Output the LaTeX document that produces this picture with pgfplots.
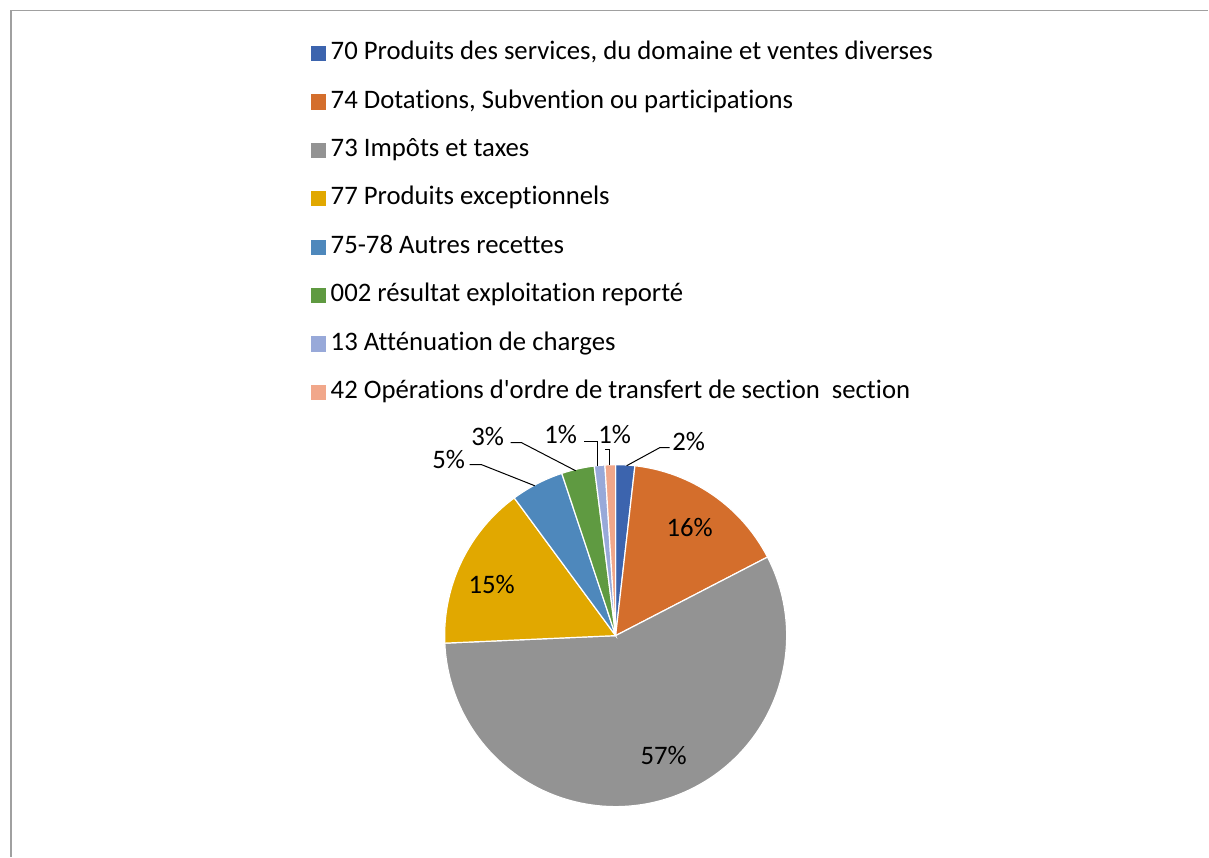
\documentclass[border=0pt]{standalone}
\usepackage{pgfplots}
\pgfplotsset{compat=1.18}
\usepackage{fontspec}
\setmainfont{Carlito}[Ligatures={TeXOff,NoCommon}]
\definecolor{c70}{HTML}{3C64AE}
\definecolor{c74}{HTML}{D46E2C}
\definecolor{c73}{HTML}{939393}
\definecolor{c77}{HTML}{E1A800}
\definecolor{c75}{HTML}{4E88BC}
\definecolor{c02}{HTML}{5F9A41}
\definecolor{c13}{HTML}{98A9D9}
\definecolor{c42}{HTML}{F1A78A}
\definecolor{frame}{HTML}{A0A0A0}
\tikzset{lbl/.style={font=\fontsize{7.6}{9}\selectfont, inner sep=0pt, anchor=center}}
% slice: #1 cumulative percent before, #2 percent, #3 colour
\newcommand{\slice}[3]{%
  \addplot[draw=white, line width=0.012cm, fill=#3,
    legend image code/.code={\fill[#3] (0cm,-0.07cm) rectangle (0.14cm,0.07cm);}]
    coordinates {(616,221)} -- ++({90-3.6*#1}:1.71cm)
    arc[start angle={90-3.6*#1}, delta angle={-3.6*#2}, radius=1.71cm] -- cycle;
}
\begin{document}
\begin{tikzpicture}
\begin{axis}[
  x=0.01cm, y=0.01cm,
  xmin=0, xmax=1209, ymin=0, ymax=857,
  hide axis, clip=false,
  at={(0,0)}, anchor=origin,
  legend style={at={(axis cs:310,816)}, anchor=north west, draw=none, fill=none,
    inner sep=0pt, row sep=0.244cm,
    font=\fontsize{7.6}{9}\selectfont,
    nodes={inner sep=0pt, anchor=west, text height=0.18cm, text depth=0.06cm}},
  legend cell align=left,
]
\path (axis cs:0,0) rectangle (axis cs:1209,857);
\draw[frame, line width=0.014cm] (axis cs:11,0) -- (axis cs:11,846.3) -- (axis cs:1209,846.3);
\slice{0}{1.8}{c70}
\addlegendentry{\hspace{0.05cm}70 Produits des services, du domaine et ventes diverses}
\slice{1.8}{15.6}{c74}
\addlegendentry{\hspace{0.05cm}74 Dotations, Subvention ou participations}
\slice{17.4}{56.9}{c73}
\addlegendentry{\hspace{0.05cm}73 Impôts et taxes}
\slice{74.3}{15.6}{c77}
\addlegendentry{\hspace{0.05cm}77 Produits exceptionnels}
\slice{89.9}{5.0}{c75}
\addlegendentry{\hspace{0.05cm}75-78 Autres recettes}
\slice{94.9}{3.1}{c02}
\addlegendentry{\hspace{0.05cm}002 résultat exploitation reporté}
\slice{98.0}{1.0}{c13}
\addlegendentry{\hspace{0.05cm}13 Atténuation de charges}
\slice{99.0}{1.0}{c42}
\addlegendentry{\hspace{0.05cm}42 Opérations d'ordre de transfert de section\ \ section}
% leader lines
\addplot[forget plot, black, line width=0.01cm] coordinates {(627,391) (660,409) (670,409)};
\addplot[forget plot, black, line width=0.01cm] coordinates {(610,392) (610,407) (605,407)};
\addplot[forget plot, black, line width=0.01cm] coordinates {(598,391) (598,415) (584,415)};
\addplot[forget plot, black, line width=0.01cm] coordinates {(576,386) (522,414) (511,414)};
\addplot[forget plot, black, line width=0.01cm] coordinates {(535,371) (482,392) (470,392)};
% labels
\node[lbl] at (axis cs:689,415) {2\%};
\node[lbl] at (axis cs:615,422) {1\%};
\node[lbl] at (axis cs:561,422) {1\%};
\node[lbl] at (axis cs:488,420) {3\%};
\node[lbl] at (axis cs:449,397) {5\%};
\node[lbl] at (axis cs:690,329) {16\%};
\node[lbl] at (axis cs:664,101) {57\%};
\node[lbl] at (axis cs:492,272) {15\%};
\end{axis}
\end{tikzpicture}
\end{document}
